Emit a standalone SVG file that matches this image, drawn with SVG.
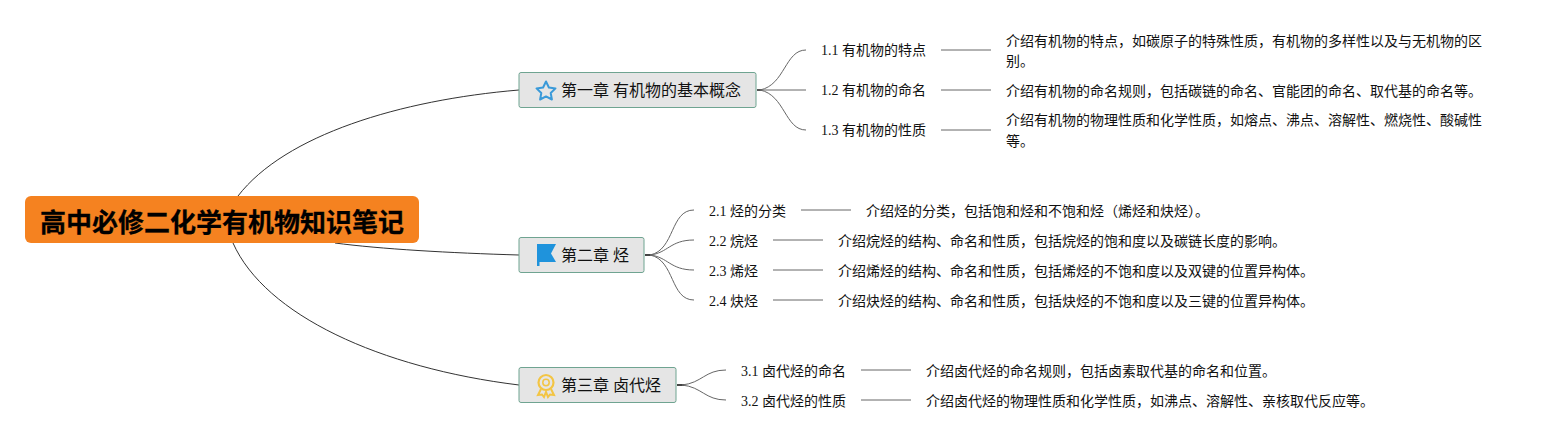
<svg xmlns="http://www.w3.org/2000/svg" width="1566" height="440" viewBox="0 0 1566 440">
<style>
text{font-family:"Liberation Serif","Noto Sans CJK SC",serif;fill:#111}
.t{font-size:14px}
.d{font-size:14px}
.c{font-size:16px;fill:#111}
.ch{fill:#e5e5e5;stroke:#6fa491;stroke-width:1}
.l{fill:none;stroke:#666;stroke-width:1}
.m{fill:none;stroke:#333;stroke-width:1}
.s{fill:none;stroke:#444;stroke-width:2}
.r{font-size:26px;font-weight:bold;fill:#000;stroke:#000;stroke-width:.3px;font-family:"Liberation Sans","Noto Sans CJK SC",sans-serif}
</style>
<g id="connectors">
<path class="m" d="M238 196C285 135 400 100 519 90"/>
<path class="m" d="M335 243C380 249 450 253 519 255"/>
<path class="m" d="M233 243C265 315 380 368 519 385"/>
<path class="s" d="M757 90H762"/>
<path class="l" d="M760 90C785 85 785 50 806 50"/>
<path class="l" d="M757 90H806"/>
<path class="l" d="M760 90C785 95 785 130 806 130"/>
<path class="s" d="M645 255H652"/>
<path class="l" d="M650 255C675 250 670 210 694 210"/>
<path class="l" d="M650 255C668 253 670 240 694 240"/>
<path class="l" d="M650 255C668 257 670 270 694 270"/>
<path class="l" d="M650 255C675 260 670 300 694 300"/>
<path class="s" d="M677 385H684"/>
<path class="l" d="M682 385C702 383 705 370 726 370"/>
<path class="l" d="M682 385C702 387 705 400 726 400"/>
<path class="l" d="M941 50H991M941 90H991M941 130H991M801 210H851M773 240H823M773 270H823M773 300H823M861 370H911M861 400H911"/>
</g>
<g id="root">
<rect x="25" y="196" width="394" height="47" rx="6" fill="#f58220"/>
<text class="r" x="40" y="232" textLength="364">高中必修二化学有机物知识笔记</text>
</g>
<g id="ch1">
<rect class="ch" x="519" y="72.500" width="237" height="35" rx="2"/>
<path d="M546 81.500l2.900 6 6.600.9-4.800 4.600 1.200 6.500-5.900-3.100-5.900 3.100 1.200-6.500-4.800-4.600 6.600-.9z" fill="none" stroke="#3a9ad9" stroke-width="2" stroke-linejoin="round"/>
<text class="c" x="561" y="96">第一章 有机物的基本概念</text>
</g>
<g id="ch2">
<rect class="ch" x="519" y="237.500" width="125" height="35" rx="2"/>
<path d="M537 244H556L551 253.500L556 262H539.500V266H537Z" fill="#1f93dc"/>
<text class="c" x="561" y="261">第二章 烃</text>
</g>
<g id="ch3">
<rect class="ch" x="519" y="367.500" width="157" height="35" rx="2"/>
<circle cx="546" cy="382.500" r="7.500" fill="none" stroke="#f3c544" stroke-width="2.200"/>
<circle cx="546" cy="382.500" r="3.200" fill="none" stroke="#f3c544" stroke-width="1.500"/>
<path d="M541 389L538 395L542 394.500L544 397L546 392L548 397L550 394.500L554 395L551 389" fill="none" stroke="#f3c544" stroke-width="2"/>
<text class="c" x="561" y="391">第三章 卤代烃</text>
</g>
<g id="n11"><text class="t" x="821" y="55">1.1 有机物的特点</text></g>
<g id="n12"><text class="t" x="821" y="95">1.2 有机物的命名</text></g>
<g id="n13"><text class="t" x="821" y="135">1.3 有机物的性质</text></g>
<g id="d11"><text class="d" x="1006" y="46">介绍有机物的特点，如碳原子的特殊性质，有机物的多样性以及与无机物的区</text><text class="d" x="1006" y="66">别。</text></g>
<g id="d12"><text class="d" x="1006" y="96">介绍有机物的命名规则，包括碳链的命名、官能团的命名、取代基的命名等。</text></g>
<g id="d13"><text class="d" x="1006" y="125">介绍有机物的物理性质和化学性质，如熔点、沸点、溶解性、燃烧性、酸碱性</text><text class="d" x="1006" y="146">等。</text></g>
<g id="n21"><text class="t" x="709" y="216">2.1 烃的分类</text></g>
<g id="n22"><text class="t" x="709" y="246">2.2 烷烃</text></g>
<g id="n23"><text class="t" x="709" y="276">2.3 烯烃</text></g>
<g id="n24"><text class="t" x="709" y="306">2.4 炔烃</text></g>
<g id="d21"><text class="d" x="866" y="216">介绍烃的分类，包括饱和烃和不饱和烃（烯烃和炔烃）。</text></g>
<g id="d22"><text class="d" x="838" y="246">介绍烷烃的结构、命名和性质，包括烷烃的饱和度以及碳链长度的影响。</text></g>
<g id="d23"><text class="d" x="838" y="276">介绍烯烃的结构、命名和性质，包括烯烃的不饱和度以及双键的位置异构体。</text></g>
<g id="d24"><text class="d" x="838" y="306">介绍炔烃的结构、命名和性质，包括炔烃的不饱和度以及三键的位置异构体。</text></g>
<g id="n31"><text class="t" x="741" y="376">3.1 卤代烃的命名</text></g>
<g id="n32"><text class="t" x="741" y="406">3.2 卤代烃的性质</text></g>
<g id="d31"><text class="d" x="926" y="376">介绍卤代烃的命名规则，包括卤素取代基的命名和位置。</text></g>
<g id="d32"><text class="d" x="926" y="406">介绍卤代烃的物理性质和化学性质，如沸点、溶解性、亲核取代反应等。</text></g>
</svg>
